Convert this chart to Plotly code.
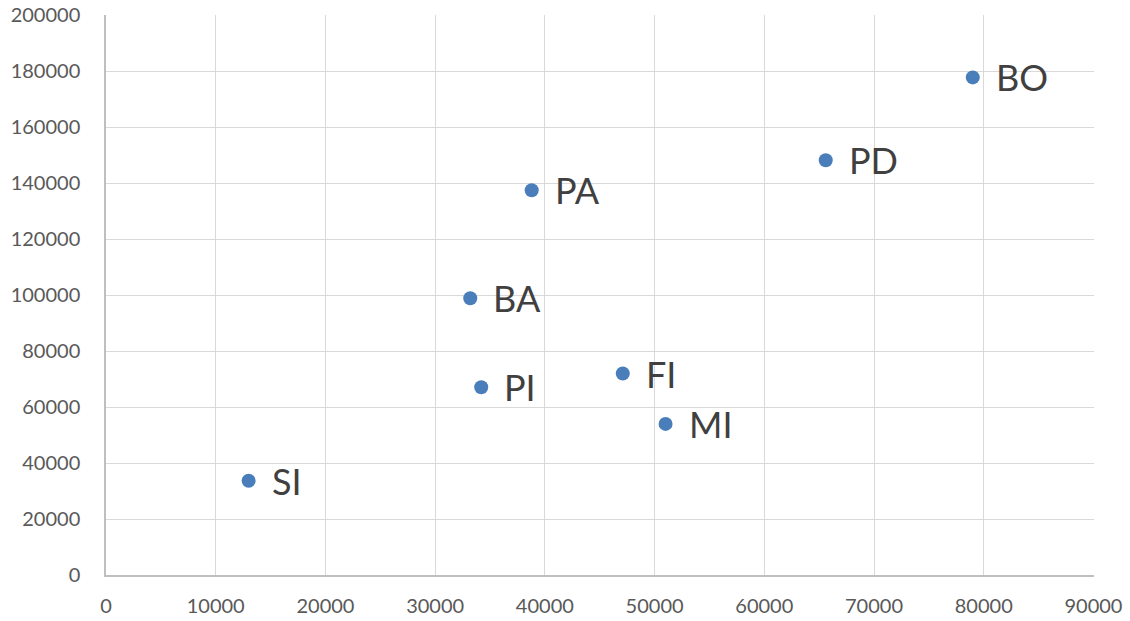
import plotly.graph_objects as go

labels = ["SI", "PI", "BA", "PA", "FI", "MI", "PD", "BO"]
x_vals = [13000, 34200, 33200, 38800, 47100, 51000, 65600, 79000]
y_vals = [33700, 67100, 98900, 137500, 72000, 54000, 148200, 177800]

x_ticks = [0, 10000, 20000, 30000, 40000, 50000, 60000, 70000, 80000, 90000]
y_ticks = [0, 20000, 40000, 60000, 80000, 100000, 120000, 140000, 160000, 180000, 200000]

FONT = "Lato"

fig = go.Figure()
fig.add_trace(go.Scatter(
    x=x_vals, y=y_vals, mode="markers",
    marker=dict(size=14, color="#4a7ebb"),
    hoverinfo="skip", showlegend=False,
))

for lab, xv, yv in zip(labels, x_vals, y_vals):
    fig.add_annotation(
        x=xv, y=yv, xref="x", yref="y", text=lab, showarrow=False,
        xanchor="left", yanchor="middle", xshift=21, yshift=0,
        font=dict(family=FONT, size=36, color="#404040"),
    )

axis_common = dict(
    showgrid=True, gridcolor="#d9d9d9", gridwidth=1.3,
    showline=True, linecolor="#bfbfbf", linewidth=1.5,
    zeroline=False, ticks="", automargin=False,
    ticklabeloverflow="allow",
    tickfont=dict(family=FONT, size=20, color="#595959"),
)

fig.update_layout(
    width=1130, height=621,
    margin=dict(l=106, r=36, t=15, b=46),
    paper_bgcolor="white", plot_bgcolor="white",
    xaxis=dict(range=[0, 90050], tickvals=x_ticks, ticktext=[str(v) for v in x_ticks],
               ticklabelstandoff=12, **axis_common),
    yaxis=dict(range=[0, 200100], tickvals=y_ticks, ticktext=[str(v) for v in y_ticks],
               ticklabelstandoff=20, **axis_common),
)

fig.write_html("out.html", config={"displayModeBar": False},
               post_script="document.body.style.margin='0';")
